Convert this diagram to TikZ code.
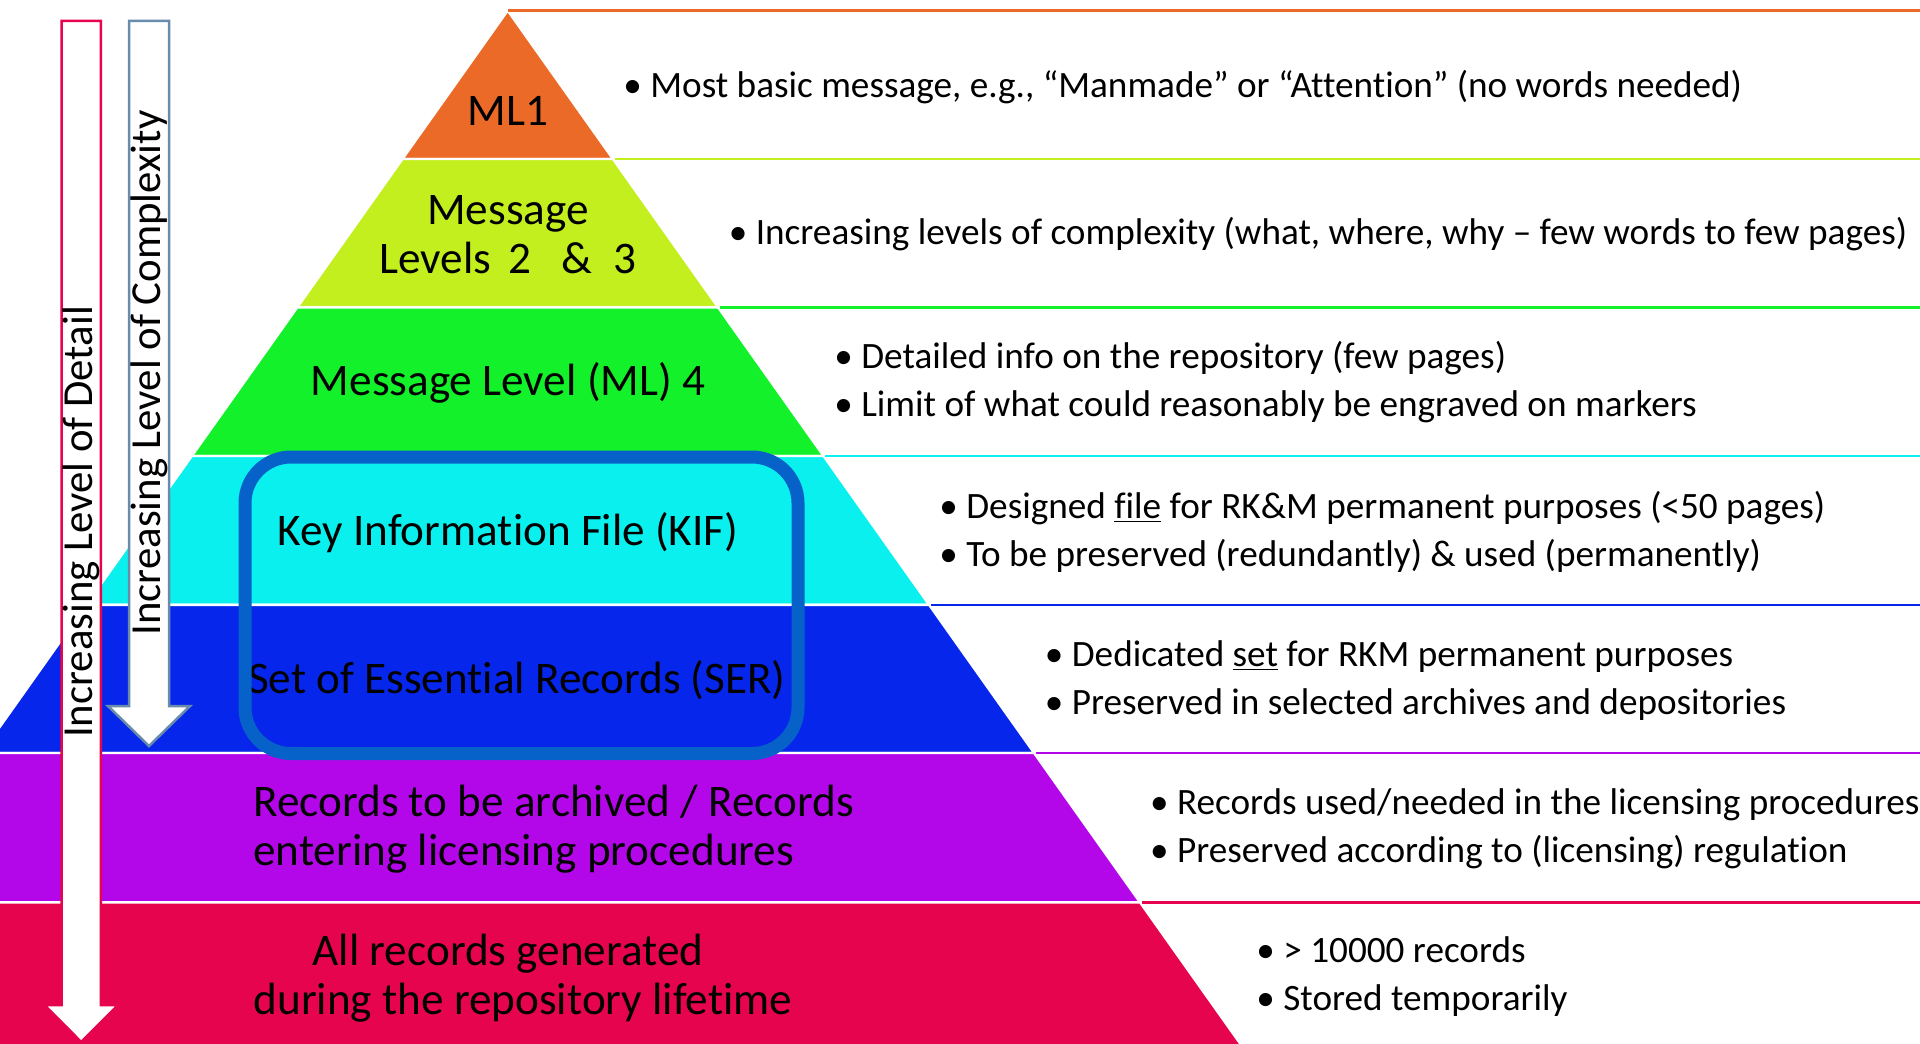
\documentclass[tikz,border=0pt]{standalone}
\usepackage{fontspec}
\setmainfont{Carlito}[Ligatures={TeX,NoCommon}]

\definecolor{lvA}{HTML}{EC6A28}
\definecolor{lvB}{HTML}{C3EF1E}
\definecolor{lvC}{HTML}{12F12A}
\definecolor{lvD}{HTML}{0AF0EE}
\definecolor{lvE}{HTML}{0627EB}
\definecolor{lvF}{HTML}{B407E9}
\definecolor{lvG}{HTML}{E6044F}
\definecolor{boxblue}{HTML}{0662C8}
\definecolor{steel}{HTML}{6A8CAC}

\tikzset{
  layer/.style={draw=white, line width=1.2pt, line join=miter},
  rule/.style={line width=1.25pt},
  lbl/.style={inner sep=0pt, align=center, text=black,
    font=\fontsize{22.6}{24.5}\selectfont},
  note/.style={inner sep=0pt, anchor=west, align=left, text=black,
    font=\fontsize{18.6}{24}\selectfont},
  bigarrow/.style={fill=white, line width=1.25pt, line join=miter},
  vlbl/.style={inner sep=0pt, rotate=90, text=black,
    font=\fontsize{21.4}{24}\selectfont}
}

\begin{document}
\begin{tikzpicture}[x=0.5pt, y=-0.5pt]
\useasboundingbox (0,0) rectangle (1920,1043);

% pyramid layers, apex at (507.7,10.5)
\begin{scope}
\clip (0,0) rectangle (1920,1043);
\fill[lvA, layer] (507.7,10.5) -- (613.0,159) -- (402.4,159) -- cycle;
\fill[lvB, layer] (402.4,159) -- (613.0,159) -- (718.1,307.3) -- (297.3,307.3) -- cycle;
\fill[lvC, layer] (297.3,307.3) -- (718.1,307.3) -- (823.6,456) -- (191.8,456) -- cycle;
\fill[lvD, layer] (191.8,456) -- (823.6,456) -- (929.1,604.8) -- (86.3,604.8) -- cycle;
\fill[lvE, layer] (86.3,604.8) -- (929.1,604.8) -- (1034.1,753) -- (-18.7,753) -- cycle;
\fill[lvF, layer] (-18.7,753) -- (1034.1,753) -- (1140.0,902.3) -- (-124.6,902.3) -- cycle;
\fill[lvG, layer] (-124.6,902.3) -- (1140.0,902.3) -- (1251.8,1060) -- (-236.4,1060) -- cycle;
\end{scope}

% coloured rules to the right of each layer
\draw[rule, lvA] (507.7,10.5) -- (1920,10.5);
\draw[rule, lvB] (614.5,159) -- (1920,159);
\draw[rule, lvC] (719.6,307.3) -- (1920,307.3);
\draw[rule, lvD] (825.1,456) -- (1920,456);
\draw[rule, lvE] (930.6,604.8) -- (1920,604.8);
\draw[rule, lvF] (1035.6,753) -- (1920,753);
\draw[rule, lvG] (1141.5,902.3) -- (1920,902.3);

% layer titles
\node[lbl] (ml1) at (508,111) {ML1};
\node[lbl] (ml23) at (508,235) {Message\\Levels\hspace{8.5pt}2\hspace{15.5pt}\&\hspace{10.5pt}3};
\node[lbl] (ml4) at (508,383) {Message Level (ML) 4};
\node[lbl] (kif) at (508,532.5) {Key Information File (KIF)};
\node[lbl] (ser) at (517,680.5) {Set of Essential Records (SER)};
\node[lbl, anchor=west, align=left] (arch) at (253,829.5) {Records to be archived / Records\\entering licensing procedures};
\node[lbl] (allA) at (508,953.5) {All records generated};
\node[lbl] (allB) at (523,1002.5) {during the repository lifetime};

% descriptions
\node[note] (d1) at (623,87) {\textbullet\ Most basic message, e.g., “Manmade” or “Attention” (no words needed)};
\node[note] (d2) at (728.5,234.5) {\textbullet\ Increasing levels of complexity (what, where, why – few words to few pages)};
\node[note] (d3) at (834,382.5) {\textbullet\ Detailed info on the repository (few pages)\\\textbullet\ Limit of what could reasonably be engraved on markers};
\node[note] (d4) at (939,531.5) {\textbullet\ Designed \underline{file} for RK\&M permanent purposes (<50 pages)\\\textbullet\ To be preserved (redundantly) \& used (permanently)};
\node[note] (d5) at (1044.5,680.5) {\textbullet\ Dedicated \underline{set} for RKM permanent purposes\\\textbullet\ Preserved in selected archives and depositories};
\node[note] (d6) at (1149.7,828.5) {\textbullet\ Records used/needed in the licensing procedures\\\textbullet\ Preserved according to (licensing) regulation};
\node[note] (d7) at (1256,977) {\textbullet\ > 10000 records\\\textbullet\ Stored temporarily};

% frame round KIF and SER
\draw[boxblue, line width=6.5pt, rounded corners=23pt] (245,457) rectangle (798,753.5);

% direction arrows
\draw[bigarrow, draw=lvG] (61.5,21) -- (100.8,21) -- (100.8,1005) -- (118,1005)
  -- (81.2,1042) -- (44.5,1005) -- (61.5,1005) -- cycle;
\draw[bigarrow, draw=steel] (129,21) -- (169,21) -- (169,706) -- (190,706)
  -- (149,746) -- (108,706) -- (129,706) -- cycle;
\node[vlbl] (detail) at (81,522) {Increasing Level of Detail};
\node[vlbl] (cplx) at (149,373) {Increasing Level of Complexity};
\end{tikzpicture}
\end{document}
